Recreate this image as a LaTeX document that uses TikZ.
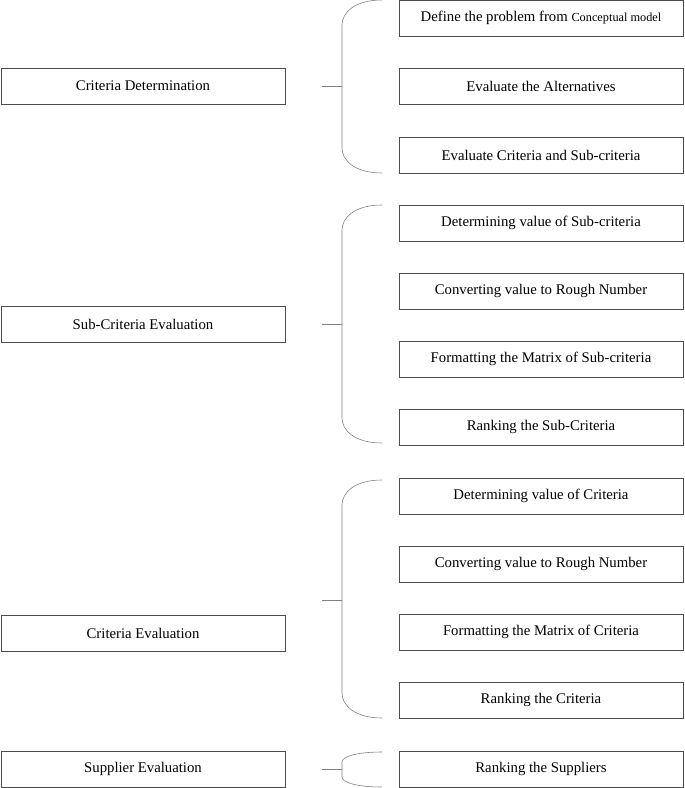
\documentclass[tikz,border=0pt]{standalone}
\usepackage{fontspec}
\setmainfont{Liberation Serif}
\begin{document}
\begin{tikzpicture}[x=0.03cm, y=-0.03cm,
	box/.style={rectangle, draw=black!70, minimum width=8.52cm, minimum height=1.08cm, inner sep=0pt, font=\fontsize{12.6}{14}\selectfont},
	brace/.style={draw=black!50, line width=0.5pt}]
	\useasboundingbox (0,0) rectangle (685,788);
	%%% LEFT
	\node[box] (crit) at (143,86) {Criteria Determination};
	\node[box] (sub) at (143,324) {Sub-Criteria Evaluation};
	\node[box] (eval) at (143,633) {Criteria Evaluation};
	\node[box] (supp) at (143,769) {Supplier Evaluation};
	
	%%% RIGHT
	\node[box] (r1) at (541,18) {Define the problem from {\fontsize{10.5}{12}\selectfont Conceptual model}};
	\node[box] (r2) at (541,86) {Evaluate the Alternatives};
	\node[box] (r3) at (541,155) {Evaluate Criteria and Sub-criteria};
	\node[box] (r4) at (541,223) {Determining value of Sub-criteria};
	\node[box] (r5) at (541,291) {Converting value to Rough Number};
	\node[box] (r6) at (541,359) {Formatting the Matrix of Sub-criteria};
	\node[box] (r7) at (541,427) {Ranking the Sub-Criteria};
	\node[box] (r8) at (541,496) {Determining value of Criteria};
	\node[box] (r9) at (541,564) {Converting value to Rough Number};
	\node[box] (r10) at (541,632) {Formatting the Matrix of Criteria};
	\node[box] (r11) at (541,700) {Ranking the Criteria};
	\node[box] (r12) at (541,769) {Ranking the Suppliers};
	
	%%% BRACES
	\foreach \top/\mid/\bot/\r in {0/86/173/25, 205/324/443/25, 480/600/718/25, 752/769/787/10} {
		\coordinate (a) at (322,\mid);
		\coordinate (b) at (342,\mid);
		\draw[brace] (a) -- (b);
		\draw[brace] (382,\top) .. controls (355,\top) and (342,\top+\r*0.5) .. (342,\top+\r)
			-- (342,\bot-\r) .. controls (342,\bot-\r*0.5) and (355,\bot) .. (382,\bot);
	}
\end{tikzpicture}
\end{document}
